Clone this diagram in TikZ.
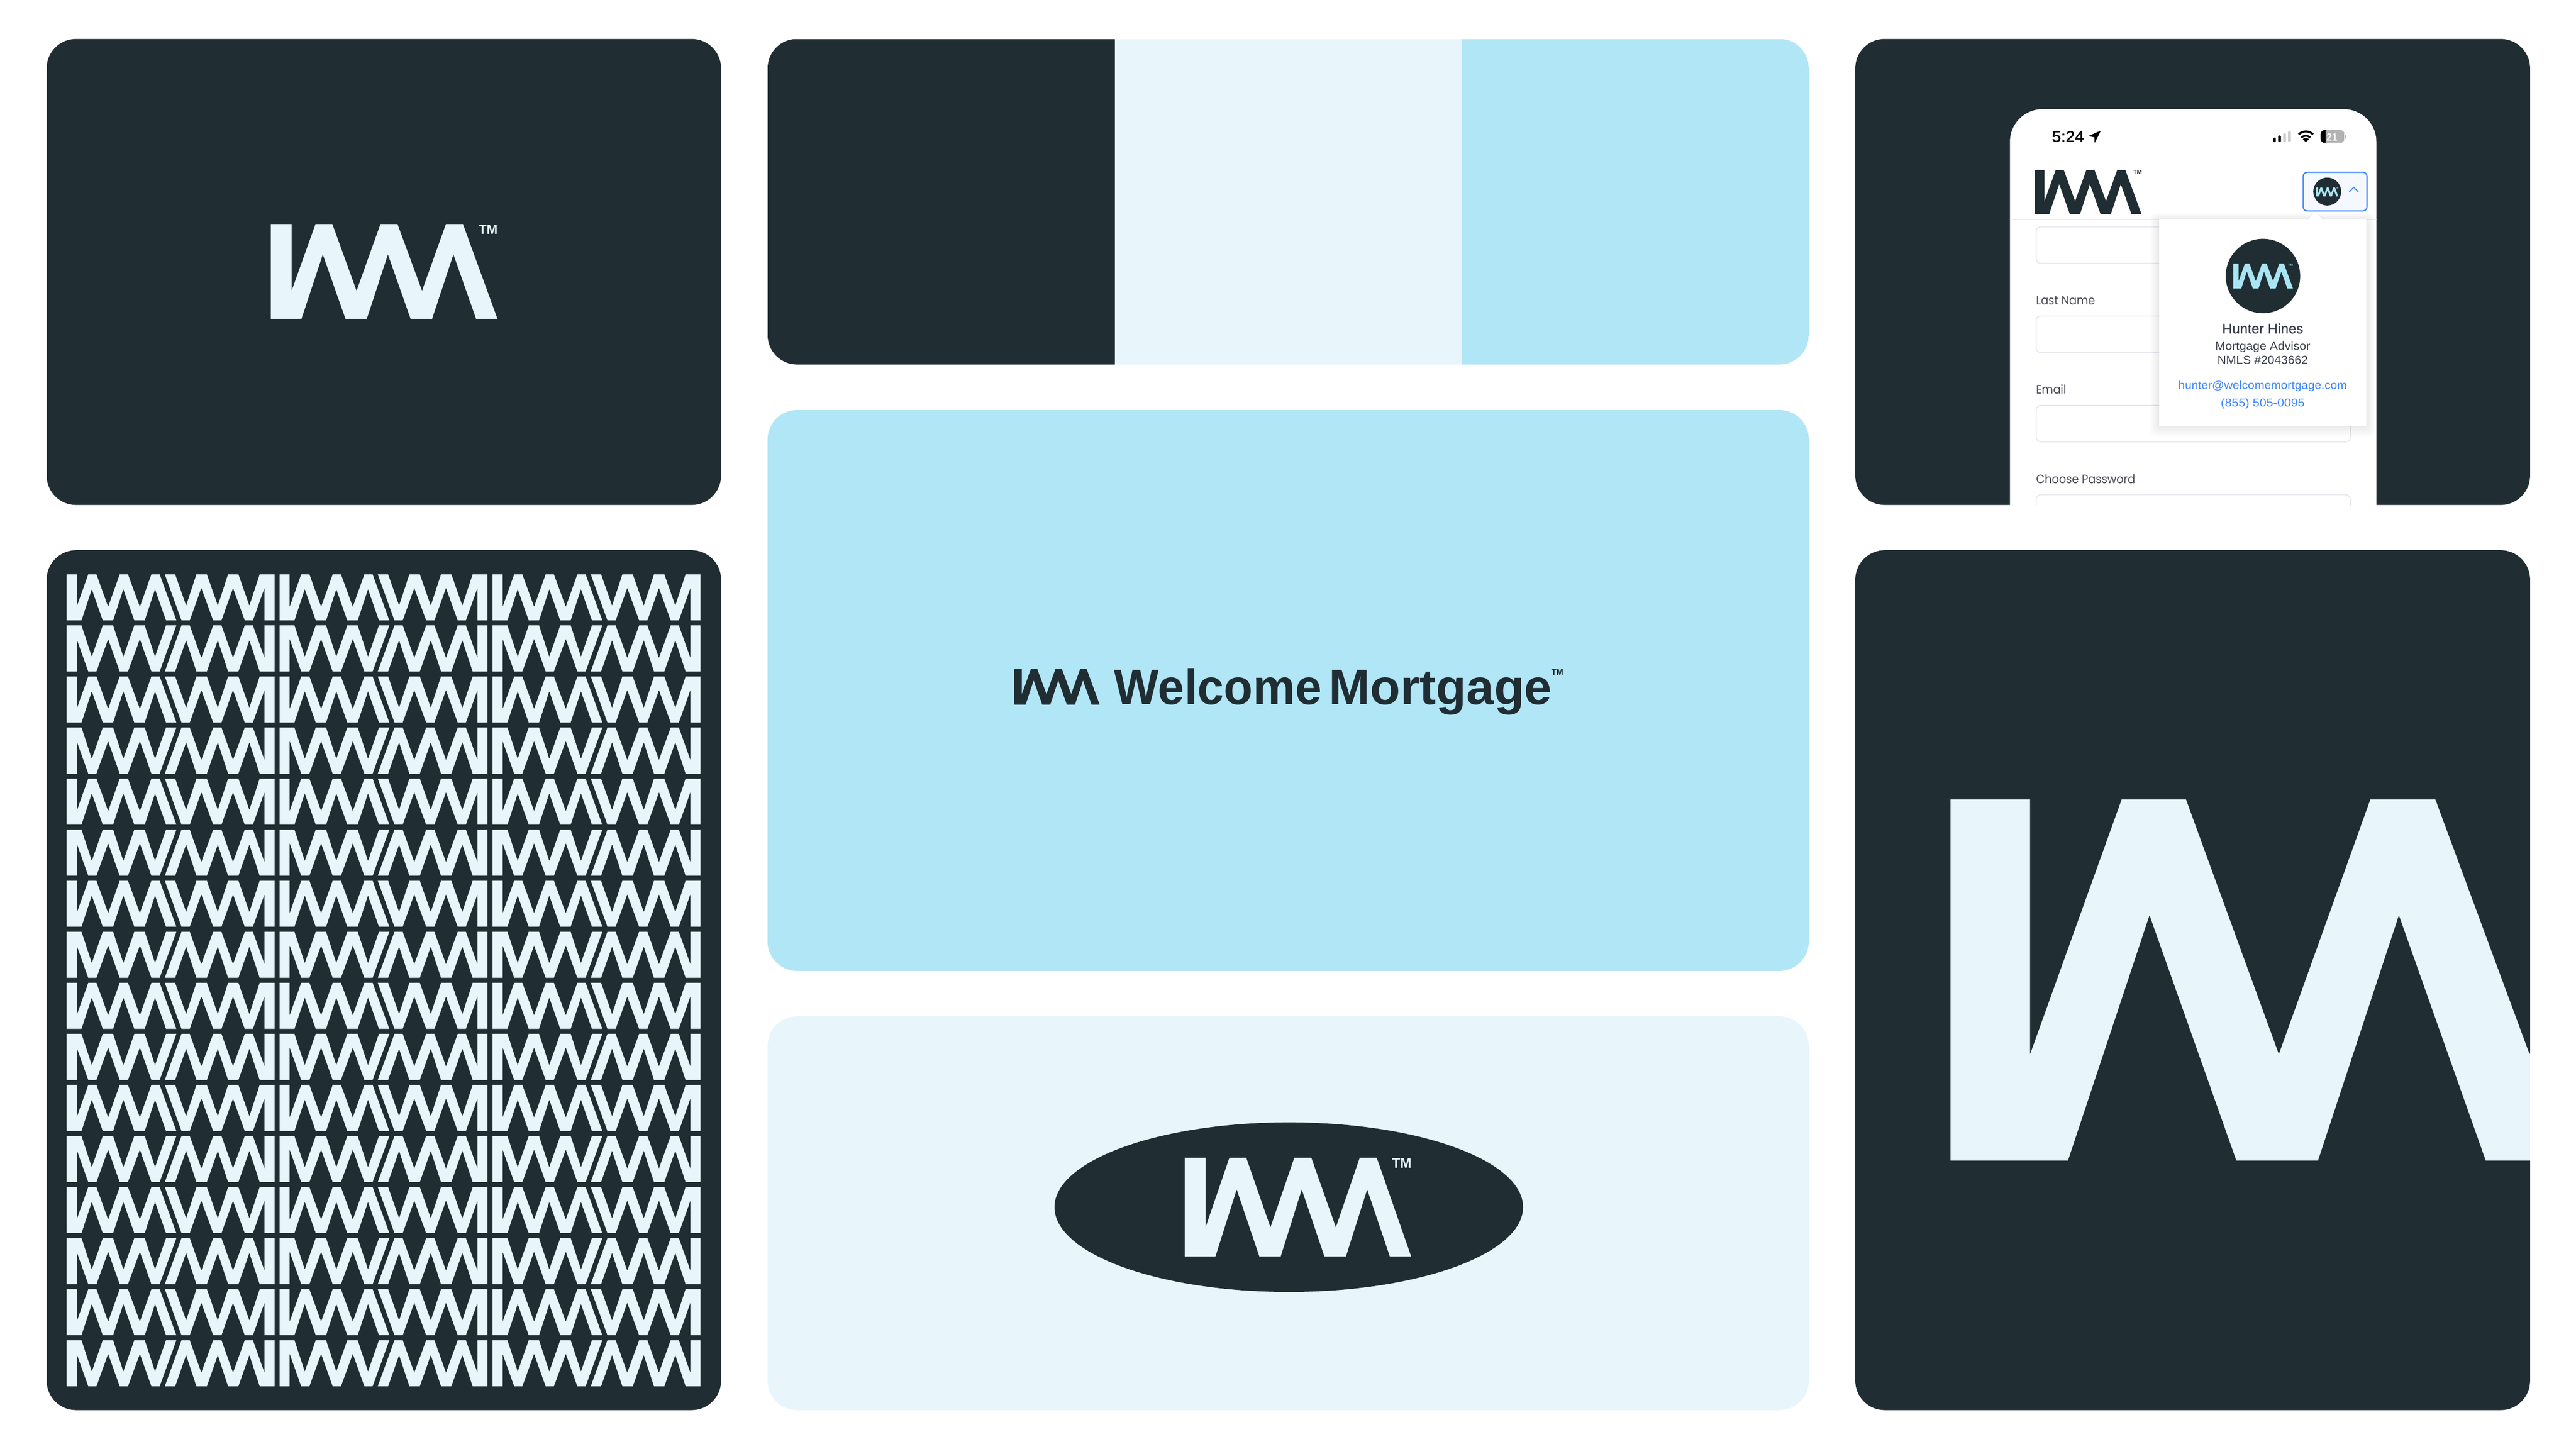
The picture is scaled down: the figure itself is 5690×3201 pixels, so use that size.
\documentclass[tikz,border=0pt]{standalone}
\usepackage{graphicx}
\usepackage{fontspec}
\setmainfont{Liberation Sans}
\newfontfamily\popfont{Poppins}
\definecolor{wmdark}{HTML}{202D33}
\definecolor{wmlight}{HTML}{E8F5FB}
\definecolor{wmblue}{HTML}{B1E6F6}
\definecolor{wmaqua}{HTML}{A9E4F3}
\definecolor{uiblue}{HTML}{3D87FF}
\definecolor{uitext}{HTML}{3B3F4C}
\definecolor{uilabel}{HTML}{4B4C57}
\definecolor{uiborder}{HTML}{E6E6EE}
\newdimen\fitd
\newcommand\fittext[2]{\sbox0{#2}\fitd=\wd0\relax\pgfmathsetmacro\fitr{#1*0.284528/\fitd}\scalebox{\fitr}[1]{\usebox0}}
\newcommand\lbl[9]{\pgfmathsetmacro\fsz{#5*0.284528}\node (#1) [anchor=#4,inner sep=0pt,outer sep=0pt,text=#6] at (#2,#3) {\fontsize{\fsz pt}{\fsz pt}\selectfont #7\fittext{#8}{#9}};}
% origin x, origin y, px per unit x, px per unit y, colour
\newcommand\wmlogo[5]{\fill[#5,shift={(#1,#2)},xscale=#3,yscale=#4] (0,0)--(120,0)--(120,443)--(258,0)--(355,0)--(495,443)--(633,0)--(731,0)--(873,443)--(1011,0)--(1109,0)--(1308,628)--(1185,628)--(1054,201)--(931,628)--(807,628)--(676,201)--(554,628)--(431,628)--(300,201)--(177,628)--(0,628)--cycle;}
\tikzset{cardshape/.style={rounded corners=0.65cm},fieldbox/.style={draw=uiborder,line width=0.02cm,fill=white,rounded corners=0.1cm}}
\begin{document}
\begin{tikzpicture}[x=0.01cm,y=-0.01cm]
\useasboundingbox (0,0) rectangle (5690,3201);
\fill[white] (0,0) rectangle (5690,3201);
% ---- cards
\fill[wmdark,cardshape] (103,86) rectangle (1592.7,1115.6);
\fill[wmdark,cardshape] (103,1215.6) rectangle (1592.7,3115.3);
\begin{scope}
\clip[cardshape] (1695.5,86) rectangle (3995.3,805.2);
\fill[wmdark] (1695.5,86) rectangle (2462.1,805.2);
\fill[wmlight] (2462.1,86) rectangle (3228.7,805.2);
\fill[wmblue] (3228.7,86) rectangle (3995.3,805.2);
\end{scope}
\fill[wmblue,cardshape] (1695.5,905.9) rectangle (3995.3,2145);
\fill[wmlight,cardshape] (1695.5,2245.4) rectangle (3995.3,3115.3);
\fill[wmdark,cardshape] (4098,86) rectangle (5588.5,1115.6);
\fill[wmdark,cardshape] (4098,1215.6) rectangle (5588.5,3115.3);
% ---- logo card 1
\wmlogo{598.2}{495}{0.38264}{0.33328}{wmlight}
\lbl{tmone}{1057.4}{516.7}{base west}{29}{wmlight}{\bfseries}{41.7}{TM}
% ---- pattern
\foreach \r in {0,...,15}{
 \foreach \c in {0,1,2}{
  \pgfmathsetmacro\py{1268.9+\r*112.8}
  \pgfmathsetmacro\px{147.2+\c*470.4}
  \pgfmathsetmacro\pxb{\px+459.2}
  \pgfmathsetmacro\pyb{\py+101.8}
  \ifodd\r
   \wmlogo{\px}{\pyb}{0.18525}{-0.1621}{wmlight}
   \wmlogo{\pxb}{\py}{-0.18525}{0.1621}{wmlight}
  \else
   \wmlogo{\px}{\py}{0.18525}{0.1621}{wmlight}
   \wmlogo{\pxb}{\pyb}{-0.18525}{-0.1621}{wmlight}
  \fi
 }
}
% ---- wordmark
\wmlogo{2239.8}{1478}{0.14457}{0.12532}{wmdark}
\pgfmathsetmacro\fsz{110*0.284528}
\node (wordmark) [anchor=base west,inner sep=0pt,outer sep=0pt,text=wmdark] at (2461,1556.7) {\fontsize{\fsz pt}{\fsz pt}\selectfont\bfseries\spaceskip=4.7pt\relax\fittext{458}{Welcome} \fittext{491.7}{Mortgage}};
\lbl{tmword}{3427}{1493}{base west}{21}{wmdark}{\bfseries}{26}{TM}
% ---- oval
\fill[wmdark] (2846.7,2666.9) ellipse [x radius=517.5,y radius=187.3];
\wmlogo{2617}{2557.7}{0.38226}{0.34745}{wmlight}
\lbl{tmoval}{3074.8}{2580}{base west}{31}{wmlight}{\bfseries}{43}{TM}
% ---- big logo
\begin{scope}
\clip[cardshape] (4098,1215.6) rectangle (5588.5,3115.3);
\wmlogo{4308.4}{1766.3}{1.465}{1.2704}{wmlight}
\end{scope}
% ---- phone
\begin{scope}
\clip (4098,86) rectangle (5588.5,1115.6);
\fill[white,rounded corners=0.72cm] (4439.6,241.2) rectangle (5249,1400);
\draw[uiborder,line width=0.015cm] (4439.6,485) -- (5249,485);
\fill[black,draw=black,line width=0.01cm,line join=round] (4639.5,289.5) -- (4614.5,300.5) -- (4626.7,303) -- (4627,314.5) -- cycle;
\draw[fieldbox] (4497.6,501.3) rectangle (5191.6,581.7);
\draw[fieldbox] (4497.6,698.2) rectangle (5191.6,779);
\draw[fieldbox] (4497.6,895.7) rectangle (5191.6,976);
\draw[fieldbox] (4497.6,1093) rectangle (5191.6,1300);
\end{scope}
\lbl{time}{4532.3}{313.3}{base west}{34}{black}{\addfontfeature{FakeBold=1.2}}{71}{5:24}
\fill[black,rounded corners=0.02cm] (5021,304.3) rectangle (5027,313.7);
\fill[black,rounded corners=0.02cm] (5032,299.3) rectangle (5038.3,313.7);
\fill[black!20,rounded corners=0.02cm] (5043,294.3) rectangle (5049.3,313.7);
\fill[black!20,rounded corners=0.02cm] (5054,289.3) rectangle (5060.3,313.7);
\draw[black,line width=0.045cm] (5077.4,297) arc [start angle=-135,end angle=-45,radius=22.5];
\draw[black,line width=0.04cm] (5083.3,304) arc [start angle=-135,end angle=-45,radius=14];
\fill[black] (5093.3,314) -- (5086.5,307.5) arc [start angle=-135,end angle=-45,radius=9.6] -- cycle;
\begin{scope}
\clip[rounded corners=0.09cm] (5126,287.3) rectangle (5178.3,315.7);
\fill[black!30] (5126,287.3) rectangle (5178.3,315.7);
\fill[black] (5126,287.3) rectangle (5137,315.7);
\end{scope}
\fill[black!30,rounded corners=0.02cm] (5179,297.7) rectangle (5182,306.7);
\lbl{battery}{5138.7}{310.7}{base west}{23}{white}{\bfseries}{24.6}{21}
\wmlogo{4494.3}{375.3}{0.18043}{0.15605}{wmdark}
\lbl{tmapp}{4711.7}{385.3}{base west}{13.5}{wmdark}{\bfseries}{19.3}{TM}
\lbl{lastname}{4497.6}{673.5}{base west}{27}{uilabel}{\popfont}{130}{Last Name}
\lbl{email}{4497.6}{870.4}{base west}{27}{uilabel}{\popfont}{66}{Email}
\lbl{password}{4497.6}{1067.9}{base west}{27}{uilabel}{\popfont}{218.7}{Choose Password}
% ---- account button
\draw[uiblue,line width=0.027cm,fill=uiblue!5,rounded corners=0.09cm] (5087.3,380.7) rectangle (5228.3,466);
\fill[wmdark] (5140.5,423.2) circle [radius=30.8];
\wmlogo{5115.7}{414}{0.03769}{0.03185}{wmaqua}
\lbl{tmbutton}{5160}{417}{base west}{5}{wmaqua}{\bfseries}{5}{TM}
\draw[uiblue,line width=0.022cm,line cap=round,line join=round] (5189.3,424) -- (5199,413.7) -- (5209,424);
% ---- popup
\foreach \e in {1,...,10}{
 \fill[black,opacity=0.008,rounded corners=0.1cm] (4769-\e*2,485.2-\e*1.4) rectangle (5227.2+\e*2,941+\e*2.4);
}
\fill[white] (4769,485.2) rectangle (5227.2,941);
\fill[black,opacity=0.03] (5093,485.2) -- (5114,466.5) -- (5134.5,485.2) -- cycle;
\fill[white] (5096.7,485.4) -- (5114,468.3) -- (5130.7,485.4) -- cycle;
\fill[wmdark] (4998.5,609.8) circle [radius=82.2];
\wmlogo{4932.7}{582.2}{0.10092}{0.08774}{wmaqua}
\lbl{tmpopup}{5053.8}{587.6}{base west}{7}{wmaqua}{\bfseries}{10.9}{TM}
\lbl{advname}{4998}{736.7}{base}{31}{uitext}{\addfontfeature{FakeBold=0.6}}{179}{Hunter Hines}
\lbl{advrole}{4998}{773.4}{base}{25}{uitext}{}{210}{Mortgage Advisor}
\lbl{advnmls}{4998}{803.8}{base}{25}{uitext}{}{200}{NMLS \#2043662}
\lbl{advmail}{4998}{860}{base}{25}{uiblue}{}{372.6}{hunter@welcomemortgage.com}
\lbl{advphone}{4998}{898.5}{base}{25}{uiblue}{}{185}{(855) 505-0095}
\end{tikzpicture}
\end{document}
